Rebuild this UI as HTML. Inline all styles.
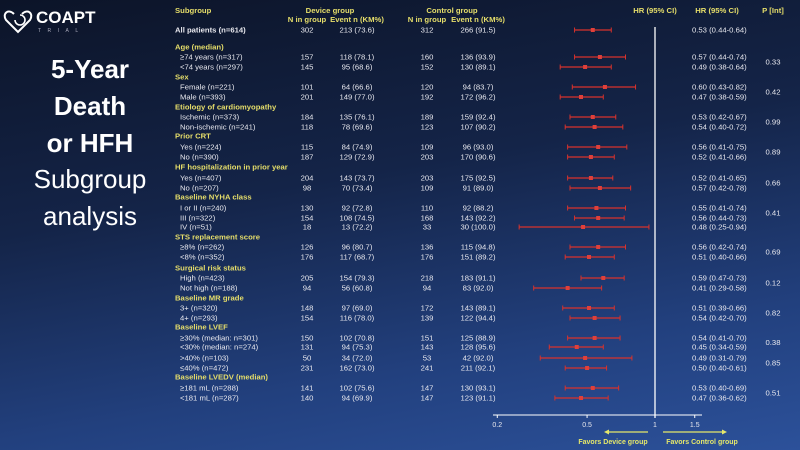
<!DOCTYPE html>
<html><head><meta charset="utf-8"><style>
html,body{margin:0;padding:0;width:800px;height:450px;overflow:hidden}
body{background:linear-gradient(170deg,#0c1428 0%,#142448 40%,#22407e 75%,#2c519a 100%);font-family:"Liberation Sans",sans-serif}
svg{position:absolute;left:0;top:0}
</style></head><body>
<svg id="chart" width="800" height="450">
<g>
<path d="M14 14 C8 8 2 14 6 20 L18 32 L30 20 C34 14 28 8 22 14" fill="none" stroke="#fff" stroke-width="2"/>
<path d="M20 15 A5 5 0 1 1 15 20" fill="none" stroke="#fff" stroke-width="1.6"/>
<text x="36" y="23" fill="#fff" font-size="17" font-weight="bold">COAPT</text>
<text x="38" y="32" fill="#aab" font-size="5" letter-spacing="6.5">TRIAL</text>
</g>
<g fill="#fff" text-anchor="middle" font-size="26">
<text x="90" y="78" font-weight="bold">5-Year</text>
<text x="90" y="115" font-weight="bold">Death</text>
<text x="90" y="152" font-weight="bold">or HFH</text>
<text x="90" y="188">Subgroup</text>
<text x="90" y="225">analysis</text>
</g>
<g font-size="7.7" font-weight="bold" fill="#e6de6a">
<text x="175" y="13">Subgroup</text>
<text x="330" y="13" text-anchor="middle">Device group</text>
<text x="452" y="13" text-anchor="middle">Control group</text>
<text x="307" y="22" text-anchor="middle">N in group</text>
<text x="357" y="22" text-anchor="middle">Event n (KM%)</text>
<text x="427" y="22" text-anchor="middle">N in group</text>
<text x="478" y="22" text-anchor="middle">Event n (KM%)</text>
<text x="655" y="13" text-anchor="middle">HR (95% CI)</text>
<text x="717" y="13" text-anchor="middle">HR (95% CI)</text>
<text x="773" y="13" text-anchor="middle">P [Int]</text>
</g>
<g id="rows"></g>
<line x1="655" y1="27" x2="655" y2="418" stroke="#fff" stroke-width="1.3"/>
<g id="axis"></g>
<g font-size="7" font-weight="bold" fill="#e6e86a">
<line x1="648" y1="432" x2="608" y2="432" stroke="#e6e86a" stroke-width="1.2"/><path d="M604 432 l5 -2.5 v5 z" fill="#e6e86a"/>
<line x1="663" y1="432" x2="723" y2="432" stroke="#e6e86a" stroke-width="1.2"/><path d="M727 432 l-5 -2.5 v5 z" fill="#e6e86a"/>
<text x="613" y="444" text-anchor="middle">Favors Device group</text>
<text x="702" y="444" text-anchor="middle">Favors Control group</text>
</g>
</svg>
<script>
const labels=["All patients (n=614)","Age (median)","≥74 years (n=317)","<74 years (n=297)","Sex","Female (n=221)","Male (n=393)","Etiology of cardiomyopathy","Ischemic (n=373)","Non-ischemic (n=241)","Prior CRT","Yes (n=224)","No (n=390)","HF hospitalization in prior year","Yes (n=407)","No (n=207)","Baseline NYHA class","I or II (n=240)","III (n=322)","IV (n=51)","STS replacement score","≥8% (n=262)","<8% (n=352)","Surgical risk status","High (n=423)","Not high (n=188)","Baseline MR grade","3+ (n=320)","4+ (n=293)","Baseline LVEF","≥30% (median: n=301)","<30% (median: n=274)",">40% (n=103)","≤40% (n=472)","Baseline LVEDV (median)","≥181 mL (n=288)","<181 mL (n=287)"];
const rowY=[30,47,57,67,77,87,97,107,117,127,136,147,157,167,178,188,197,208,218,227,237,247,257,268,278,288,298,308,318,327,338,347,358,368,377,388,398];
const nDevice=["302","","157","145","","101","201","","184","118","","115","187","","204","98","","130","154","18","","126","176","","205","94","","148","154","","150","131","50","231","","141","140"];
const evDevice=["213 (73.6)","","118 (78.1)","95 (68.6)","","64 (66.6)","149 (77.0)","","135 (76.1)","78 (69.6)","","84 (74.9)","129 (72.9)","","143 (73.7)","70 (73.4)","","92 (72.8)","108 (74.5)","13 (72.2)","","96 (80.7)","117 (68.7)","","154 (79.3)","56 (60.8)","","97 (69.0)","116 (78.0)","","102 (70.8)","94 (75.3)","34 (72.0)","162 (73.0)","","102 (75.6)","94 (69.9)"];
const nControl=["312","","160","152","","120","192","","189","123","","109","203","","203","109","","110","168","33","","136","176","","218","94","","172","139","","151","143","53","241","","147","147"];
const evControl=["266 (91.5)","","136 (93.9)","130 (89.1)","","94 (83.7)","172 (96.2)","","159 (92.4)","107 (90.2)","","96 (93.0)","170 (90.6)","","175 (92.5)","91 (89.0)","","92 (88.2)","143 (92.2)","30 (100.0)","","115 (94.8)","151 (89.2)","","183 (91.1)","83 (92.0)","","143 (89.1)","122 (94.4)","","125 (88.9)","128 (95.6)","42 (92.0)","211 (92.1)","","130 (93.1)","123 (91.1)"];
const hr=[0.53,null,0.57,0.49,null,0.60,0.47,null,0.53,0.54,null,0.56,0.52,null,0.52,0.57,null,0.55,0.56,0.48,null,0.56,0.51,null,0.59,0.41,null,0.51,0.54,null,0.54,0.45,0.49,0.50,null,0.53,0.47];
const ciLow=[0.44,null,0.44,0.38,null,0.43,0.38,null,0.42,0.40,null,0.41,0.41,null,0.41,0.42,null,0.41,0.44,0.25,null,0.42,0.40,null,0.47,0.29,null,0.39,0.42,null,0.41,0.34,0.31,0.40,null,0.40,0.36];
const ciHigh=[0.64,null,0.74,0.64,null,0.82,0.59,null,0.67,0.72,null,0.75,0.66,null,0.65,0.78,null,0.74,0.73,0.94,null,0.74,0.66,null,0.73,0.58,null,0.66,0.70,null,0.70,0.59,0.79,0.61,null,0.69,0.62];
const pInt=["","","0.33","","","0.42","","","0.99","","","0.89","","","0.66","","","0.41","","","","0.69","","","0.12","","","0.82","","","0.38","","0.85","","","0.51",""];
const pRows=[[2,3],[5,6],[8,9],[11,12],[14,15],[17,18],[21,22],[24,25],[27,28],[30,31],[32,33],[35,36]];
const tickVals=[0.2,0.5,1,1.5];
const tickLabels=["0.2","0.5","1","1.5"];
const xScale=v=>655+98*Math.log(v);
const NS="http://www.w3.org/2000/svg";
const rows=document.getElementById('rows');
function mk(tag,attrs,parent){const e=document.createElementNS(NS,tag);for(const k in attrs)e.setAttribute(k,attrs[k]);parent.appendChild(e);return e;}
function txt(x,y,s,parent,anchor,fill,bold){const t=mk('text',{x:x,y:y+2.5,'font-size':7.7,fill:fill,'text-anchor':anchor},parent);if(bold)t.setAttribute('font-weight','bold');t.textContent=s;return t;}
labels.forEach((lab,i)=>{
  const y=rowY[i];const g=mk('g',{},rows);
  
  
  if(hr[i]===null){txt(175,y,lab,g,'start','#e6de6a',true);return;}
  txt(i===0?175:180,y,lab,g,'start','#e8e8ee',i===0);
  txt(307,y,nDevice[i],g,'middle','#e8e8ee');
  txt(357,y,evDevice[i],g,'middle','#e8e8ee');
  txt(427,y,nControl[i],g,'middle','#e8e8ee');
  txt(478,y,evControl[i],g,'middle','#e8e8ee');
  txt(692,y,hr[i].toFixed(2)+' ('+ciLow[i].toFixed(2)+'-'+ciHigh[i].toFixed(2)+')',g,'start','#e8e8ee');
  const x1=xScale(ciLow[i]),x2=xScale(ciHigh[i]),xc=xScale(hr[i]);
  const l=mk('line',{x1:x1,x2:x2,y1:y,y2:y,stroke:'#d8322c','stroke-width':1.3},g);
  
  
  mk('line',{x1:x1,x2:x1,y1:y-2.5,y2:y+2.5,stroke:'#d8322c','stroke-width':1},g);
  mk('line',{x1:x2,x2:x2,y1:y-2.5,y2:y+2.5,stroke:'#d8322c','stroke-width':1},g);
  const p=mk('rect',{x:xc-2,y:y-2,width:4,height:4,fill:'#e0403a'},g);
  
  
});
pRows.forEach(pr=>{
  const y=(rowY[pr[0]]+rowY[pr[1]])/2;const v=pInt[pr[0]];
  const t=txt(773,y,v,rows,'middle','#e8e8ee');
  
  
});
const ax=document.getElementById('axis');
mk('line',{x1:493,x2:702,y1:415,y2:415,stroke:'#fff','stroke-width':1},ax);
tickVals.forEach((v,i)=>{
  const x=xScale(v);
  mk('line',{x1:x,x2:x,y1:415,y2:418,stroke:'#fff','stroke-width':1},ax);
  const t=mk('text',{x:x,y:427,'font-size':7,fill:'#e8e8ee','text-anchor':'middle'},ax);
  
  
  t.textContent=tickLabels[i];
});
</script>
</body></html>
